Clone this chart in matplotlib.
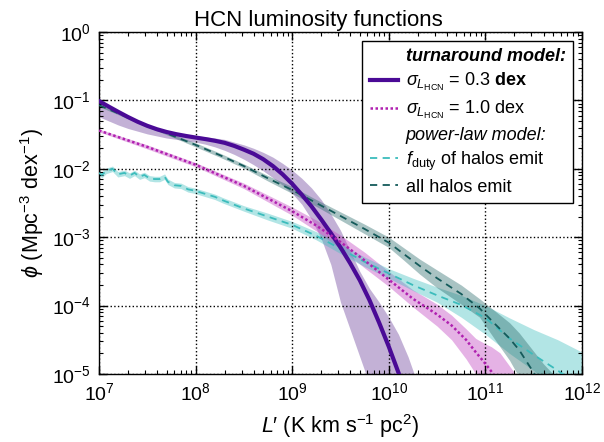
import numpy as np
import matplotlib
matplotlib.use("Agg")
import matplotlib.pyplot as plt
from matplotlib.lines import Line2D

plt.rcParams['font.family'] = ['Liberation Sans', 'DejaVu Sans']
plt.rcParams['mathtext.fontset'] = 'custom'
plt.rcParams['mathtext.rm'] = 'Liberation Sans'
plt.rcParams['mathtext.it'] = 'Liberation Sans:italic'
plt.rcParams['mathtext.bf'] = 'Liberation Sans:bold'
plt.rcParams['mathtext.sf'] = 'Liberation Sans'

# ---------------- data (log10 values) ----------------
# turnaround model, sigma = 0.3 dex
ta03_logL = [7.0, 7.1, 7.2, 7.3, 7.4, 7.5, 7.6, 7.7, 7.8, 7.9, 8.0, 8.1, 8.2, 8.3, 8.4, 8.5, 8.6,
             8.7, 8.8, 8.9, 9.0, 9.1, 9.2, 9.3, 9.4, 9.5, 9.6, 9.7, 9.8, 9.9, 10.0, 10.1, 10.2, 10.3]
ta03_logphi = [-1.01, -1.09, -1.168, -1.243, -1.312, -1.372, -1.422, -1.462, -1.494, -1.52, -1.543,
               -1.565, -1.59, -1.62, -1.665, -1.72, -1.78, -1.86, -1.96, -2.08, -2.22, -2.38, -2.55,
               -2.74, -2.94, -3.15, -3.38, -3.63, -3.92, -4.25, -4.60, -4.98, -5.4, -5.8]
ta03_lo = [-1.24, -1.30, -1.36, -1.41, -1.45, -1.49, -1.52, -1.55, -1.57, -1.59, -1.61, -1.64, -1.68,
           -1.73, -1.79, -1.86, -1.94, -2.03, -2.13, -2.24, -2.36, -2.52, -2.74, -3.02, -3.40, -3.95,
           -4.35, -4.75, -5.15, -5.5, -6.0, -6.0, -6.0, -6.0]
ta03_hi = [-1.00, -1.07, -1.15, -1.22, -1.29, -1.35, -1.40, -1.44, -1.47, -1.50, -1.52, -1.53, -1.55,
           -1.57, -1.61, -1.65, -1.70, -1.76, -1.83, -1.92, -2.02, -2.14, -2.28, -2.45, -2.66, -2.90,
           -3.20, -3.50, -3.75, -3.95, -4.17, -4.42, -4.75, -5.15]

# turnaround model, sigma = 1.0 dex
ta10_logL = [7.0, 7.5, 8.0, 8.5, 9.0, 9.25, 9.5, 9.75, 10.0, 10.25, 10.5, 10.65, 10.8, 10.9, 11.0,
             11.06, 11.15, 11.3]
ta10_logphi = [-1.44, -1.68, -1.94, -2.25, -2.62, -2.83, -3.07, -3.34, -3.62, -3.90, -4.13, -4.29,
               -4.50, -4.68, -4.85, -4.96, -5.15, -5.5]
ta10_lo = [-1.46, -1.71, -1.97, -2.29, -2.68, -2.91, -3.17, -3.45, -3.72, -4.02, -4.30, -4.50,
           -4.78, -5.0, -5.2, -5.4, -5.6, -6.0]
ta10_hi = [-1.42, -1.65, -1.91, -2.21, -2.56, -2.75, -2.97, -3.22, -3.50, -3.77, -3.98, -4.14,
           -4.34, -4.48, -4.56, -4.60, -4.69, -4.98]

# power-law model, f_duty of halos emit
fduty_logL = [7.0, 7.03, 7.075, 7.14, 7.195, 7.264, 7.316, 7.368, 7.42, 7.47, 7.523, 7.575, 7.627,
              7.679, 7.713, 7.78, 7.85, 7.92, 7.99, 8.06, 8.13, 8.20, 8.28, 8.5, 8.75, 9.0, 9.25,
              9.5, 9.75, 10.0, 10.25, 10.5, 10.75, 11.0, 11.25, 11.5, 11.75, 12.0]
fduty_logphi = [-2.06, -2.09, -2.03, -2.00, -2.08, -2.06, -2.10, -2.06, -2.115, -2.09, -2.14, -2.15, -2.15,
                -2.115, -2.19, -2.24, -2.25, -2.30, -2.32, -2.35, -2.38, -2.41, -2.46, -2.58, -2.70, -2.82, -2.98,
                -3.17, -3.36, -3.53, -3.70, -3.85, -3.99, -4.18, -4.48, -4.72, -4.95, -5.2]
fduty_lo = [-2.10, -2.13, -2.07, -2.04, -2.12, -2.10, -2.14, -2.10, -2.155, -2.13, -2.18, -2.19, -2.19,
            -2.155, -2.23, -2.28, -2.29, -2.34, -2.36, -2.39, -2.42, -2.45, -2.50, -2.62, -2.75, -2.87, -3.04,
            -3.24, -3.43, -3.60, -3.78, -3.95, -4.17, -4.42, -4.70, -4.95, -5.3, -5.6]
fduty_hi = [-2.02, -2.05, -1.99, -1.96, -2.04, -2.02, -2.06, -2.02, -2.075, -2.05, -2.10, -2.11, -2.11,
            -2.075, -2.15, -2.20, -2.21, -2.26, -2.28, -2.31, -2.34, -2.37, -2.42, -2.54, -2.65, -2.77, -2.92,
            -3.10, -3.29, -3.46, -3.60, -3.73, -3.85, -4.00, -4.18, -4.35, -4.50, -4.68]

# power-law model, all halos emit
all_logL = [7.0, 7.25, 7.5, 7.75, 8.0, 8.25, 8.5, 8.75, 9.0, 9.25, 9.5, 9.75, 10.0, 10.15, 10.32,
            10.5, 10.75, 10.94, 11.1, 11.25, 11.35, 11.5, 11.6, 11.7]
all_logphi = [-1.07, -1.22, -1.37, -1.51, -1.65, -1.80, -1.96, -2.14, -2.31, -2.50, -2.69, -2.88, -3.08,
              -3.24, -3.42, -3.60, -3.83, -4.04, -4.27, -4.48, -4.65, -4.98, -5.2, -5.6]
all_lo = [-1.09, -1.24, -1.39, -1.53, -1.68, -1.83, -1.99, -2.18, -2.36, -2.55, -2.75, -2.95, -3.15,
          -3.33, -3.54, -3.74, -3.98, -4.17, -4.50, -4.80, -5.05, -5.5, -5.8, -6.0]
all_hi = [-1.05, -1.20, -1.35, -1.49, -1.62, -1.77, -1.93, -2.10, -2.26, -2.45, -2.63, -2.81, -3.00,
          -3.15, -3.32, -3.48, -3.70, -3.90, -4.08, -4.25, -4.40, -4.67, -4.85, -5.0]

legend_labels = ['turnaround model:',
                 r'$\sigma_{L_\mathrm{HCN}}$ = 0.3 $\mathbf{dex}$',
                 r'$\sigma_{L_\mathrm{HCN}}$ = 1.0 dex',
                 'power-law model:',
                 r'$f_\mathrm{duty}$ of halos emit',
                 'all halos emit']

# ---------------- colours ----------------
c_ta03 = '#4a0a96'
c_ta03_band = '#6a3d9a'
c_ta10 = '#b020b0'
c_ta10_band = '#c040c0'
c_fduty = '#3cbcbc'
c_fduty_band = '#40bfbf'
c_all = '#145a5a'
c_all_band = '#2a6a6a'


def p(a):
    return 10.0 ** np.asarray(a)


fig = plt.figure(figsize=(6.04, 4.42), dpi=100)
ax = fig.add_axes([99 / 604, 68 / 442, 483 / 604, 342 / 442])
ax.set_xscale('log')
ax.set_yscale('log')

ax.fill_between(p(ta03_logL), p(ta03_lo), p(ta03_hi), color=c_ta03_band, alpha=0.4, lw=0, zorder=1)
ax.fill_between(p(ta10_logL), p(ta10_lo), p(ta10_hi), color=c_ta10_band, alpha=0.4, lw=0, zorder=1)
ax.fill_between(p(fduty_logL), p(fduty_lo), p(fduty_hi), color=c_fduty_band, alpha=0.4, lw=0, zorder=1)
ax.fill_between(p(all_logL), p(all_lo), p(all_hi), color=c_all_band, alpha=0.4, lw=0, zorder=1)

l1, = ax.plot(p(ta03_logL), p(ta03_logphi), color=c_ta03, lw=3, zorder=4)
l2, = ax.plot(p(ta10_logL), p(ta10_logphi), color=c_ta10, lw=1.8, ls=(0, (1, 1)), zorder=4)
l3, = ax.plot(p(fduty_logL), p(fduty_logphi), color=c_fduty, lw=1.3, ls=(0, (4, 3)), zorder=3)
l4, = ax.plot(p(all_logL), p(all_logphi), color=c_all, lw=1.3, ls=(0, (4, 3)), zorder=3)

ax.set_xlim(1e7, 1e12)
ax.set_ylim(1e-5, 1e0)

ax.grid(True, which='major', color='black', linestyle=':', linewidth=1)
ax.tick_params(which='both', direction='in', top=True, right=True, labelsize=14, pad=6)
ax.tick_params(which='major', length=6, width=1)
ax.tick_params(which='minor', length=3, width=0.8)
for s in ax.spines.values():
    s.set_linewidth(1)

fig.text(318 / 604, 1 - 26 / 442, 'HCN luminosity functions', fontsize=16,
         ha='center', va='baseline')
ax.set_xlabel("$L$\u2032 (K km s$^{-1}$ pc$^{2}$)", fontsize=15.5, labelpad=6)
ax.set_ylabel(r'$\phi$ (Mpc$^{-3}$ dex$^{-1}$)', fontsize=15.5, labelpad=4)

blank = Line2D([], [], color='none')
leg = ax.legend([blank, l1, l2, blank, l3, l4], legend_labels, loc='upper right',
                fontsize=13, frameon=True, fancybox=False, edgecolor='black', framealpha=1,
                handlelength=1.55, handletextpad=0.45, borderaxespad=0.5, labelspacing=0.32,
                borderpad=0.4)
leg.get_frame().set_linewidth(1)
t = leg.get_texts()
t[0].set_fontweight('bold')
t[0].set_fontstyle('italic')
t[3].set_fontstyle('italic')
leg.set_zorder(10)

fig.savefig('out.png', dpi=100)
